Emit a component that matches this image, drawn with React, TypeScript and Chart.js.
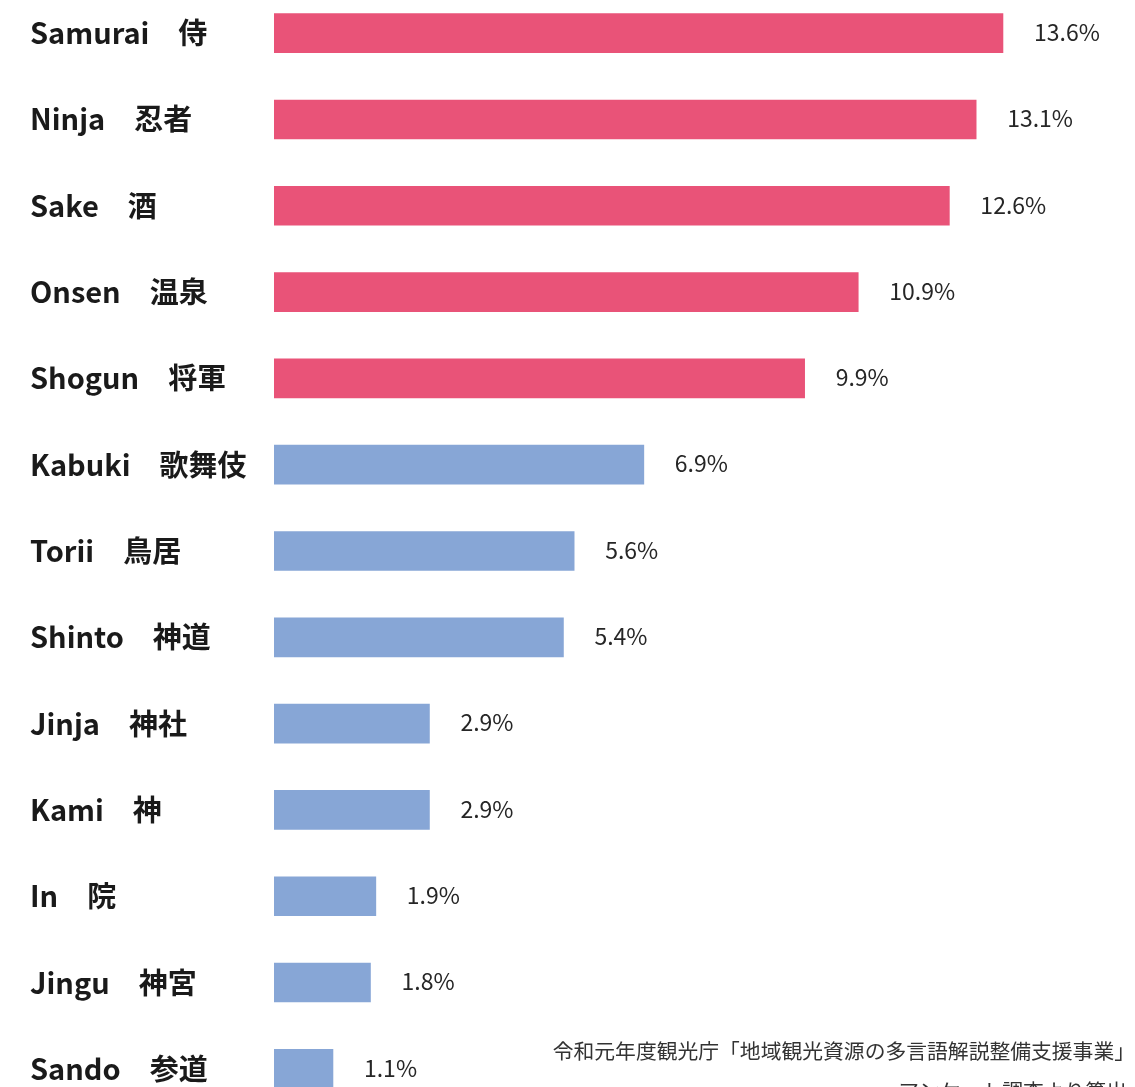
import React, { useEffect, useRef } from 'react';
import { Chart, registerables } from 'chart.js';

Chart.register(...registerables);

const categories = [
  'Samurai　侍',
  'Ninja　忍者',
  'Sake　酒',
  'Onsen　温泉',
  'Shogun　将軍',
  'Kabuki　歌舞伎',
  'Torii　鳥居',
  'Shinto　神道',
  'Jinja　神社',
  'Kami　神',
  'In　院',
  'Jingu　神宮',
  'Sando　参道',
];
const values = [13.6, 13.1, 12.6, 10.9, 9.9, 6.9, 5.6, 5.4, 2.9, 2.9, 1.9, 1.8, 1.1];
const highlighted = [true, true, true, true, true, false, false, false, false, false, false, false, false];
const sourceLines = ['令和元年度観光庁「地域観光資源の多言語解説整備支援事業」', 'アンケート調査より算出'];

const PINK = '#E95378';
const BLUE = '#87A6D6';
const FONT = '"Noto Sans CJK JP", "Noto Sans", sans-serif';

const W = 1135;
const H = 1122;

export default function App() {
  const ref = useRef<HTMLCanvasElement | null>(null);

  useEffect(() => {
    if (!ref.current) return;
    const labelPlugin = {
      id: 'valueLabels',
      afterDatasetsDraw(chart: any) {
        const ctx = chart.ctx;
        const meta = chart.getDatasetMeta(0);
        ctx.save();
        ctx.font = `23px ${FONT}`;
        ctx.fillStyle = '#262626';
        ctx.textAlign = 'left';
        ctx.textBaseline = 'middle';
        meta.data.forEach((bar: any, i: number) => {
          ctx.fillText(values[i].toFixed(1) + '%', bar.x + 31, bar.y - 1);
        });
        ctx.font = `20.8px ${FONT}`;
        ctx.fillStyle = '#333333';
        ctx.textAlign = 'right';
        ctx.fillText(sourceLines[0], 1135, 1061);
        ctx.fillText(sourceLines[1], 1127, 1101);
        ctx.restore();
      },
    };

    const chart = new Chart(ref.current, {
      type: 'bar',
      data: {
        labels: categories,
        datasets: [
          {
            data: values,
            backgroundColor: highlighted.map((h) => (h ? PINK : BLUE)),
            barThickness: 39,
            borderWidth: 0,
          },
        ],
      },
      options: {
        indexAxis: 'y',
        responsive: false,
        animation: false,
        layout: { padding: { left: 30, right: 3.4, top: 0, bottom: 0 } },
        plugins: { legend: { display: false }, tooltip: { enabled: false } },
        scales: {
          x: { display: false, min: 0, max: 16 },
          y: {
            grid: { display: false },
            border: { display: false },
            ticks: {
              crossAlign: 'far',
              color: '#1a1a1a',
              font: { family: FONT, size: 29, weight: 'bold' },
            },
            afterFit(scale: any) {
              scale.width = 244;
              scale.paddingTop = 0;
              scale.paddingBottom = 0;
            },
          },
        },
      },
      plugins: [labelPlugin],
    });
    return () => chart.destroy();
  }, []);

  return (
    <div style={{ position: 'fixed', left: 0, top: -10, width: W, height: H, background: '#ffffff' }}>
      <canvas ref={ref} width={W} height={H} style={{ display: 'block' }} />
    </div>
  );
}
